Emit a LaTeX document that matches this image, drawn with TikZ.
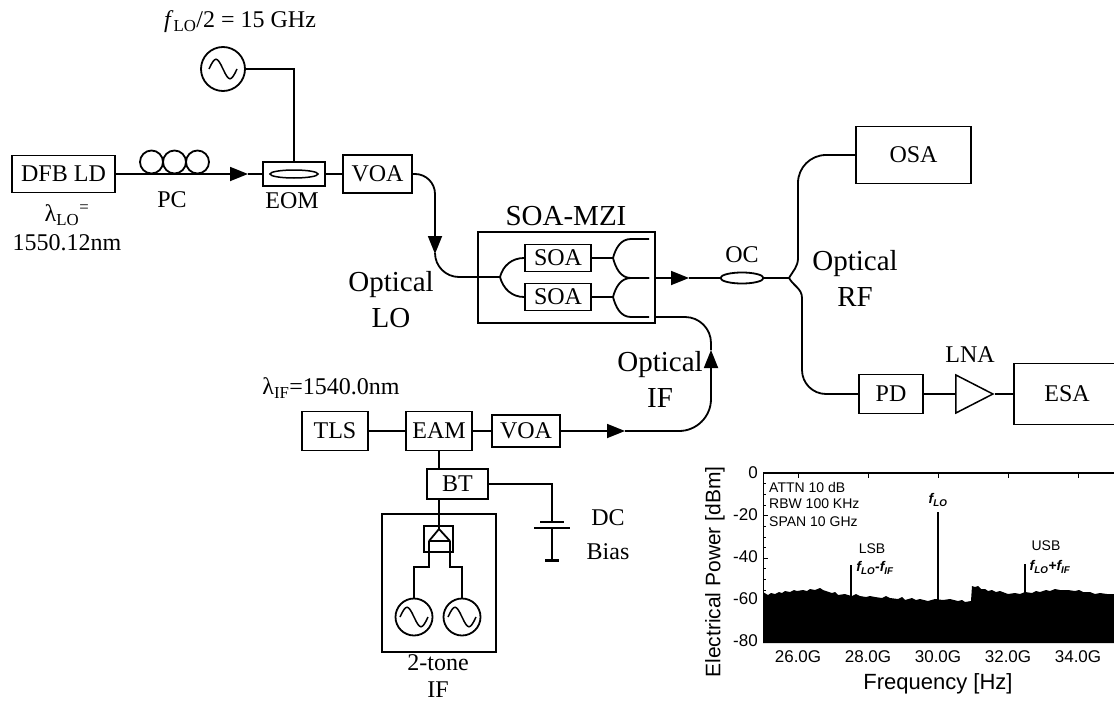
\documentclass[tikz,border=0pt]{standalone}
\usepackage{fontspec}
\setmainfont{Liberation Serif}
\setsansfont{Liberation Sans}
\usetikzlibrary{arrows.meta,positioning,shapes.geometric}

\begin{document}
\begin{tikzpicture}[x=1pt,y=-1pt,>={Stealth[length=18pt,width=14pt,inset=0pt]},font=\fontsize{24}{27}\selectfont,
box/.style={draw,line width=1.8pt,inner sep=0pt},
fibre/.style={line width=1.8pt},
arrow/.style={->,line width=1.8pt},
soa/.style={box,minimum width=66pt,minimum height=27pt},
src/.style={draw,circle,line width=1.8pt,inner sep=0pt,minimum size=37pt,path picture={\draw[line width=1.5pt] ([xshift=-14pt]path picture bounding box.center) .. controls +(6pt,13pt) and +(-6pt,13pt) .. (path picture bounding box.center) .. controls +(6pt,-13pt) and +(-6pt,-13pt) .. ([xshift=14pt]path picture bounding box.center);}},
title/.style={font=\fontsize{29}{36}\selectfont,align=center},
axislabel/.style={font=\sffamily\fontsize{21}{25}\selectfont},
ticklabel/.style={font=\sffamily\fontsize{17}{22}\selectfont},
note/.style={font=\sffamily\fontsize{14}{17}\selectfont}]
\useasboundingbox (0,0) rectangle (1114,701);

\node[box,minimum width=103pt,minimum height=37pt] (dfb) at (63.5,174) {DFB LD};
\node (pclabel) at (172,200) {PC};
\node[inner sep=0pt] (lambdalo) at (67,215) {λ\textsubscript{LO}\textsuperscript{=}};
\node[inner sep=0pt] (lambdaval) at (67,243) {1550.12nm};
\node[box,minimum width=62pt,minimum height=24pt] (eom) at (294,174) {};
\node[draw,ellipse,line width=1.5pt,minimum width=48pt,minimum height=8pt,inner sep=0pt] (eomcore) at (294,174) {};
\node (eomlabel) at (292,201) {EOM};
\node[box,minimum width=69pt,minimum height=38pt] (voaa) at (377.5,174) {VOA};
\node[src,minimum size=44pt] (srcl) at (223,69) {};
\node (srclabel) at (240,22) {\textit{f}\textsubscript{LO}/2 = 15 GHz};
\foreach \x/\n in {151.5/a,174.5/b,197.5/c} \node[draw,circle,line width=1.8pt,minimum size=23pt,inner sep=0pt] (pc\n) at (\x,162) {};

\node[box,minimum width=177pt,minimum height=91pt] (mzi) at (566.5,277.5) {};
\node[title] (mzilabel) at (566,216) {SOA-MZI};
\node[soa] (soaa) at (558,258) {SOA};
\node[soa] (soab) at (558,297) {SOA};
\node[title] (oplo) at (391,300) {Optical\\LO};
\node[title] (oprf) at (855,278) {Optical\\RF};
\node[title] (opif) at (660,379) {Optical\\IF};
\node[draw,ellipse,line width=1.8pt,minimum width=43pt,minimum height=11pt,inner sep=0pt] (oc) at (742,278) {};
\node (oclabel) at (742,255) {OC};
\node[box,minimum width=115pt,minimum height=57pt] (osa) at (913.5,155) {OSA};
\node[box,minimum width=64pt,minimum height=39pt] (pd) at (891,394) {PD};
\node[draw,line width=1.5pt,isosceles triangle,isosceles triangle stretches,minimum height=37pt,minimum width=38pt,inner sep=0pt] (lna) at (967.5,394) {};
\node (lnalabel) at (970,355) {LNA};
\node[box,minimum width=106pt,minimum height=61pt] (esa) at (1067,394) {ESA};

\node[inner sep=0pt] (lambdaif) at (331,388) {λ\textsubscript{IF}=1540.0nm};
\node[box,minimum width=66pt,minimum height=39pt] (tls) at (335,431) {TLS};
\node[box,minimum width=66pt,minimum height=39pt] (eam) at (439,431) {EAM};
\node[box,minimum width=68pt,minimum height=32pt] (voab) at (526,431) {VOA};
\node[box,minimum width=61pt,minimum height=30pt] (bt) at (457.5,484) {BT};
\node[box,minimum width=114pt,minimum height=138pt] (twotone) at (439,583) {};
\node[box,minimum width=29pt,minimum height=26pt] (comb) at (438.5,539) {};
\node[src] (srca) at (414,617) {};
\node[src] (srcb) at (462,617) {};
\node (tonelabel) at (438,663) {2-tone};
\node (iflabel) at (438,690) {IF};
\node[align=center,font=\fontsize{24}{34}\selectfont] (dclabel) at (608,535) {DC\\Bias};

\coordinate (tipa) at (248,174);
\coordinate (tipb) at (435,254);
\coordinate (tipc) at (689,278);
\coordinate (tipd) at (711,350);
\coordinate (tipe) at (625,431);
\coordinate (splitl) at (500,277);
\coordinate (splita) at (613,258);
\coordinate (splitb) at (613,297);
\coordinate (outa) at (649,239);
\coordinate (outb) at (649,278);
\coordinate (outc) at (649,317);
\coordinate (splitr) at (789,278);
\coordinate (branchu) at (798,258);
\coordinate (branchd) at (802,298);
\coordinate (mziout) at (655,317);
\coordinate (roof) at (439,529);
\coordinate (roofl) at (429,541);
\coordinate (roofr) at (450,541);
\coordinate (kneea) at (429,567);
\coordinate (kneeb) at (450,567);
\coordinate (plate) at (552,522);
\coordinate (plateb) at (552,528);
\coordinate (gnd) at (552,560);

\draw[arrow] (dfb.east)--(tipa); \draw[fibre] (tipa)--(eom.west); \draw[fibre] (eom.east)--(voaa.west);
\draw[fibre] (srcl.east)-|(eom.north);
\draw[arrow,rounded corners=20pt] (voaa.east)-|(tipb); \draw[fibre,rounded corners=24pt] (tipb)|-(splitl);
\draw[fibre] (splitl) to[out=75,in=180] (soaa.west); \draw[fibre] (splitl) to[out=-75,in=180] (soab.west);
\draw[fibre] (soaa.east)--(splita); \draw[fibre] (soab.east)--(splitb);
\draw[fibre] (splita) to[out=75,in=180] ++(18,-19)--(outa); \draw[fibre] (splita) to[out=-75,in=180] ++(18,20)--(outb);
\draw[fibre] (splitb) to[out=75,in=180] ++(18,-19)--(outb); \draw[fibre] (splitb) to[out=-75,in=180] ++(18,20)--(outc);
\draw[arrow] (mzi.east|-tipc)--(tipc); \draw[fibre] (tipc)--(oc.west); \draw[fibre] (oc.east)--(splitr);
\draw[fibre] (splitr) to[out=60,in=-90] (branchu); \draw[fibre,rounded corners=28pt] (branchu)|-(osa.west);
\draw[fibre] (splitr) to[out=-60,in=90] (branchd); \draw[fibre,rounded corners=24pt] (branchd)|-(pd.west);
\draw[fibre] (pd.east)--(lna.west); \draw[fibre] (lna.east)--(esa.west);
\draw[fibre] (tls.east)--(eam.west); \draw[fibre] (eam.east)--(voab.west);
\draw[arrow] (voab.east)--(tipe); \draw[arrow,rounded corners=32pt] (tipe)-|(tipd);
\draw[fibre,rounded corners=26pt] (tipd)|-(mziout);
\draw[fibre] (eam.south)--(eam.south|-bt.north); \draw[fibre] (eam.south|-bt.south)--(roof);
\draw[fibre] (roofl)--(roof)--(roofr); \draw[line width=2pt] (roofl)--(roofr);
\draw[fibre] (roofl)--(kneea)-|(srca.north); \draw[fibre] (roofr)--(kneeb)-|(srcb.north);
\draw[fibre] (bt.east)-|(plate); \draw[line width=1.8pt] (plate)++(-12,0)--++(24,0);
\draw[line width=1.8pt] (plateb)++(-18,0)--++(36,0); \draw[fibre] (plateb)--(gnd); \draw[line width=3pt] (gnd)++(-7,0)--++(14,0);

\fill (763,643)--(763,592)--(768,595)--(771,593)--(775,594)--(779,592)--(782,593)--(785,591)--(790,592)--(794,590)--(797,591)--(803,590)--(807,591)--(810,589)--(815,590)--(820,588)--(823,590)--(826,591)--(832,593)--(835,592)--(838,595)--(845,594)--(848,595)--(852,596)--(856,594)--(860,596)--(866,597)--(870,596)--(875,597)--(882,598)--(886,596)--(890,598)--(898,599)--(902,597)--(905,600)--(912,598)--(916,600)--(920,599)--(928,601)--(935,599)--(943,600)--(950,599)--(958,601)--(962,600)--(965,602)--(971,601)--(972,586)--(975,587)--(978,586)--(981,589)--(985,589)--(988,591)--(992,590)--(996,592)--(1000,591)--(1008,594)--(1015,593)--(1020,594)--(1025,592)--(1032,593)--(1036,591)--(1040,592)--(1046,590)--(1050,591)--(1055,589)--(1060,590)--(1068,590)--(1075,591)--(1079,590)--(1083,592)--(1090,592)--(1095,594)--(1100,593)--(1107,594)--(1114,594)--(1114,643)--cycle;
\draw[line width=1pt] (763,643)--(763,473); \draw[line width=1.6pt] (763,473)--(1114,473);
\foreach \x in {798,868,938,1008,1078} \draw[line width=0.8pt] (\x,473)--(\x,478);
\foreach \y in {473,515.5,558,600.5} \draw[line width=0.8pt] (763,\y)--(768,\y);
\foreach \y in {483.6,494.2,504.9,526.1,536.8,547.4,568.6,579.2,589.9} \draw[line width=0.6pt] (763,\y)--(766,\y);
\draw[line width=1.5pt] (938,600)--(938,512);
\draw[line width=1.1pt] (851,596)--(851,565);
\draw[line width=1.1pt] (1025,593)--(1025,564);
\foreach \y/\v in {473/0,515/-20,557/-40,599/-60,641/-80} \node[ticklabel,anchor=east,inner sep=0pt] (tick\v) at (758,\y) {\v};
\foreach \x/\v in {798/26,868/28,938/30,1008/32,1078/34} \node[ticklabel,inner sep=0pt] (tickf\v) at (\x,657) {\v.0G};
\node[axislabel,rotate=90,inner sep=0pt] (ylabel) at (715,572) {Electrical Power [dBm]};
\node[axislabel,inner sep=0pt,font=\sffamily\fontsize{22}{25}\selectfont] (xlabel) at (938,684) {Frequency [Hz]};
\node[note,anchor=west,inner sep=0pt] (attn) at (769,487) {ATTN 10 dB};
\node[note,anchor=west,inner sep=0pt] (rbw) at (769,504) {RBW 100 KHz};
\node[note,anchor=west,inner sep=0pt] (span) at (769,522) {SPAN 10 GHz};
\node[note,inner sep=0pt] (lolabel) at (938,500) {\bfseries\itshape f\textsubscript{LO}};
\node[note,inner sep=0pt] (lsb) at (872,549) {LSB};
\node[note,inner sep=0pt] (lsbf) at (875,568) {\bfseries\itshape f\textsubscript{LO}-f\textsubscript{IF}};
\node[note,inner sep=0pt] (usb) at (1046,546) {USB};
\node[note,inner sep=0pt] (usbf) at (1050,567) {\bfseries\itshape f\textsubscript{LO}+f\textsubscript{IF}};
\end{tikzpicture}
\end{document}
